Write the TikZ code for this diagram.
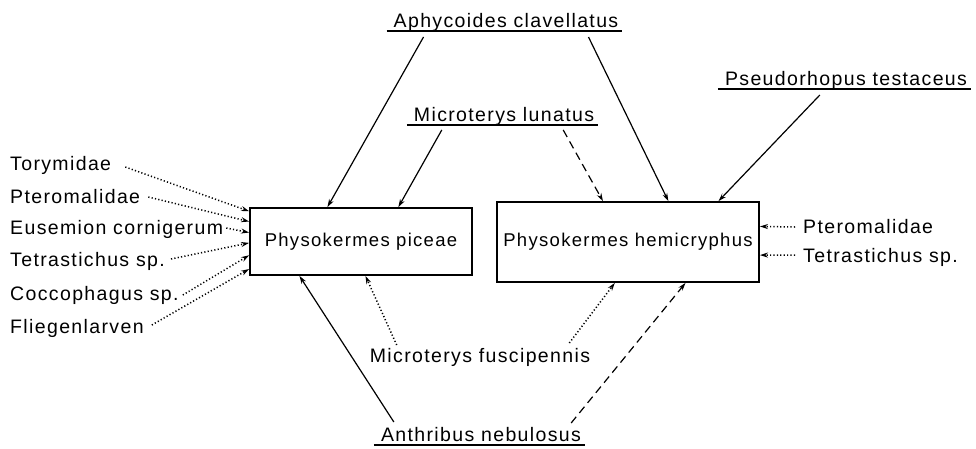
\documentclass[tikz,border=0pt]{standalone}
\usepackage{fontspec}
\setmainfont{Liberation Sans}[LetterSpace=7]
\usetikzlibrary{arrows.meta,calc}
\begin{document}
\begin{tikzpicture}[x=1pt,y=-1pt,
  lab/.style={font=\fontsize{19.5}{22}\selectfont, inner sep=0pt},
  box/.style={draw, line width=1.8pt, inner sep=0pt, font=\fontsize{18.5}{22}\selectfont},
  ul/.style={line width=1.6pt},
  arr/.style={line width=1.2pt, -{Stealth[length=8pt,width=5pt]}},
  dotarr/.style={arr, line width=1.5pt, dash pattern=on 1.2pt off 2.2pt},
  dasharr/.style={arr, dash pattern=on 8pt off 5pt}]
\useasboundingbox (0,0) rectangle (976,448);
\fill[white] (0,0) rectangle (976,448);

% boxes
\node[box, minimum width=222pt, minimum height=67pt] (pic) at (361,241.5) {Physokermes piceae};
\node[box, minimum width=262pt, minimum height=80pt] (hem) at (628,242) {Physokermes hemicryphus};

% underlined labels
\node[lab, anchor=base] (aph) at (506,27) {Aphycoides clavellatus};
\node[lab, anchor=base] (lun) at (504,121) {Microterys lunatus};
\node[lab, anchor=base] (pse) at (846,85) {Pseudorhopus testaceus};
\node[lab, anchor=base] (ant) at (481,441) {Anthribus nebulosus};
\node[lab, anchor=base] (fus) at (480,362) {Microterys fuscipennis};

\foreach \n in {aph,lun,pse,ant}
  \draw[ul] ([shift={(-7,4)}]\n.base west) -- ([shift={(4,4)}]\n.base east);

% left labels
\node[lab, anchor=base west] (l1) at (10,170) {Torymidae};
\node[lab, anchor=base west] (l2) at (10,203) {Pteromalidae};
\node[lab, anchor=base west] (l3) at (10,234) {Eusemion cornigerum};
\node[lab, anchor=base west] (l4) at (10,266) {Tetrastichus sp.};
\node[lab, anchor=base west] (l5) at (10,300) {Coccophagus sp.};
\node[lab, anchor=base west] (l6) at (10,333) {Fliegenlarven};

% right labels
\node[lab, anchor=base west] (r1) at (803,233) {Pteromalidae};
\node[lab, anchor=base west] (r2) at (803,262) {Tetrastichus sp.};

% arrows from top
\draw[arr] ([shift={(30,10)}]aph.base west) -- ($(pic.north west)!0.35!(pic.north east)$);
\draw[arr] ([shift={(-30,10)}]aph.base east) -- ($(hem.north west)!0.653!(hem.north east)$);
\draw[arr] ([shift={(28,9)}]lun.base west) -- ($(pic.north west)!0.667!(pic.north east)$);
\draw[dasharr] ([shift={(-31,9)}]lun.base east) -- ($(hem.north west)!0.405!(hem.north east)$);
\draw[arr] ([shift={(95,10)}]pse.base west) -- ($(hem.north west)!0.843!(hem.north east)$);

% arrows from bottom
\draw[arr] ([shift={(13,-19)}]ant.base west) -- ($(pic.south west)!0.225!(pic.south east)$);
\draw[dasharr] ([shift={(-10,-18)}]ant.base east) -- ($(hem.south west)!0.718!(hem.south east)$);
\draw[dotarr] ([shift={(27,-17)}]fus.base west) -- ($(pic.south west)!0.52!(pic.south east)$);
\draw[dotarr] ([shift={(-21,-19)}]fus.base east) -- ($(hem.south west)!0.45!(hem.south east)$);

% left dotted arrows
\draw[dotarr] ([shift={(14,-3)}]l1.base east) -- ($(pic.north west)!0.06!(pic.south west)$);
\draw[dotarr] ([shift={(8,-6)}]l2.base east) -- ($(pic.north west)!0.21!(pic.south west)$);
\draw[dotarr] ([shift={(3,-6)}]l3.base east) -- ($(pic.north west)!0.37!(pic.south west)$);
\draw[dotarr] ([shift={(6,-7)}]l4.base east) -- ($(pic.north west)!0.52!(pic.south west)$);
\draw[dotarr] ([shift={(4,-5)}]l5.base east) -- ($(pic.north west)!0.70!(pic.south west)$);
\draw[dotarr] ([shift={(8,-8)}]l6.base east) -- ($(pic.north west)!0.90!(pic.south west)$);

% right dotted arrows
\draw[dotarr] ([shift={(-8,-6)}]r1.base west) -- ($(hem.north east)!0.31!(hem.south east)$);
\draw[dotarr] ([shift={(-8,-7)}]r2.base west) -- ($(hem.north east)!0.66!(hem.south east)$);
\end{tikzpicture}
\end{document}
